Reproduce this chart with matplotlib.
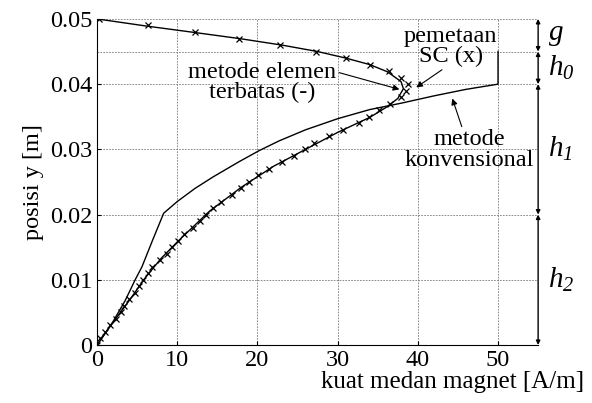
import numpy as np
import matplotlib
matplotlib.use('Agg')
import matplotlib.pyplot as plt

plt.rcParams['font.family'] = ['Liberation Serif', 'DejaVu Serif']
# mathtext only used for the h/g labels: make digits italic too
plt.rcParams['mathtext.fontset'] = 'custom'
plt.rcParams['mathtext.rm'] = 'Liberation Serif:italic'
plt.rcParams['mathtext.it'] = 'Liberation Serif:italic'
plt.rcParams['mathtext.default'] = 'it'

# pemetaan SC (x) markers, lower branch then upper branch
sc_x = [0.0, 0.4, 0.95, 1.65, 2.35, 2.95, 3.4, 4.0, 4.7, 5.25,
        5.7, 6.3, 6.9, 7.8, 8.7, 9.4, 10.1, 10.9, 11.9, 12.8,
        13.6, 14.5, 15.5, 16.8, 18.0, 19.0, 20.1, 21.5, 23.1, 24.6,
        25.9, 27.1, 28.9, 30.7, 32.6, 33.9, 35.2, 36.5, 37.9, 38.5,
        38.8, 37.9, 36.4, 34.0, 31.0, 27.3, 22.8, 17.7, 12.2, 6.3, 0.3]
sc_y = [0.000, 0.001, 0.002, 0.003, 0.004, 0.005, 0.006, 0.007, 0.008, 0.009,
        0.010, 0.011, 0.012, 0.013, 0.014, 0.015, 0.016, 0.017, 0.018, 0.019,
        0.020, 0.021, 0.022, 0.023, 0.024, 0.025, 0.026, 0.027, 0.028, 0.029,
        0.030, 0.031, 0.032, 0.033, 0.034, 0.035, 0.036, 0.037, 0.038, 0.039,
        0.040, 0.041, 0.042, 0.043, 0.044, 0.045, 0.046, 0.047, 0.048, 0.049, 0.050]

# metode elemen terbatas (-)
fem_x = [0, 2, 4, 6, 8, 10, 14, 18, 22, 26, 30, 34, 36, 37.5, 38.2,
         37.9, 36.2, 34.0, 31.0, 27.5, 23.0, 17.7, 12.3, 6.2, 0]
fem_y = [0, 0.0035, 0.0068, 0.0103, 0.0133, 0.0158, 0.0205, 0.0242, 0.0274, 0.0300,
         0.0326, 0.0349, 0.0364, 0.0378, 0.0393,
         0.0404, 0.0419, 0.0430, 0.0440, 0.0450, 0.0460, 0.0470, 0.0479, 0.0489, 0.0500]

# metode konvensional
conv_x = [0, 2, 3.5, 4.75, 5.6, 6.9, 8.3, 10, 12.2, 14.5, 17.7, 20.2, 22.7, 26,
          30, 34, 38, 42, 46, 50, 50]
conv_y = [0, 0.0036, 0.0068, 0.0100, 0.0120, 0.0160, 0.0202, 0.0220, 0.0240, 0.0258,
          0.0281, 0.0298, 0.0313, 0.0330, 0.0347, 0.0361, 0.0371, 0.0382, 0.0392,
          0.0400, 0.0450]

# region boundaries on the right
bounds = [0.0, 0.02, 0.04, 0.045, 0.05]
region_labels = [r'$h_2$', r'$h_1$', r'$h_0$', r'$g$']

fig = plt.figure(figsize=(5.92, 4.03), dpi=100)
ax = fig.add_axes([0.164, 0.144, 0.745, 0.809])

ax.plot(fem_x, fem_y, color='k', lw=1.0)
ax.plot(conv_x, conv_y, color='k', lw=1.0)
ax.plot(sc_x, sc_y, ls='none', marker='x', color='k', ms=4.5, mew=0.9)

ax.set_xlim(0, 55)
ax.set_ylim(0, 0.05)
ax.set_xticks([0, 10, 20, 30, 40, 50])
ax.set_yticks([0, 0.01, 0.02, 0.03, 0.04, 0.05])
ax.set_yticklabels(['0', '0.01', '0.02', '0.03', '0.04', '0.05'])

for gx in [10, 20, 30, 40, 50]:
    ax.axvline(gx, color='#777777', ls=(0, (2, 1.5)), lw=0.6, zorder=0)
for gy in [0.01, 0.02, 0.03, 0.04, 0.045, 0.05]:
    ax.axhline(gy, color='#777777', ls=(0, (2, 1.5)), lw=0.6, zorder=0)

ax.spines['top'].set_visible(False)
ax.spines['right'].set_visible(False)
ax.tick_params(direction='in', length=3, labelsize=17.5, top=False, right=False)

ax.set_ylabel('posisi y [m]', fontsize=17.5)
ax.set_xlabel('kuat medan magnet [A/m]', fontsize=18)
ax.xaxis.set_label_coords(0.805, -0.08)

arr = dict(arrowstyle='-|>', color='k', lw=0.8, mutation_scale=9, shrinkA=0, shrinkB=0)
ax.annotate('metode elemen\nterbatas (-)', xy=(37.7, 0.0392), xytext=(20.6, 0.0403),
            ha='center', va='center', fontsize=17.5, linespacing=0.95,
            arrowprops=dict(arr, relpos=(1.0, 0.75)))
ax.annotate('pemetaan\nSC (x)', xy=(39.8, 0.0395), xytext=(44.1, 0.0458),
            ha='center', va='center', fontsize=17.5, linespacing=0.95,
            arrowprops=dict(arr, relpos=(0.45, 0.0)))
ax.annotate('metode\nkonvensional', xy=(44.3, 0.0378), xytext=(46.4, 0.0299),
            ha='center', va='center', fontsize=17.5, linespacing=0.95,
            arrowprops=dict(arr, relpos=(0.45, 1.0)))

for lo, hi, lab in zip(bounds[:-1], bounds[1:], region_labels):
    ax.annotate('', xy=(55, hi), xytext=(55, lo), annotation_clip=False,
                arrowprops=dict(arrowstyle='<|-|>', color='k', lw=1.0,
                                mutation_scale=6, shrinkA=0, shrinkB=0))
    ax.text(56.2, (lo + hi) / 2, lab, fontsize=21, ha='left', va='center',
            clip_on=False)

fig.savefig('out.png', dpi=100)
